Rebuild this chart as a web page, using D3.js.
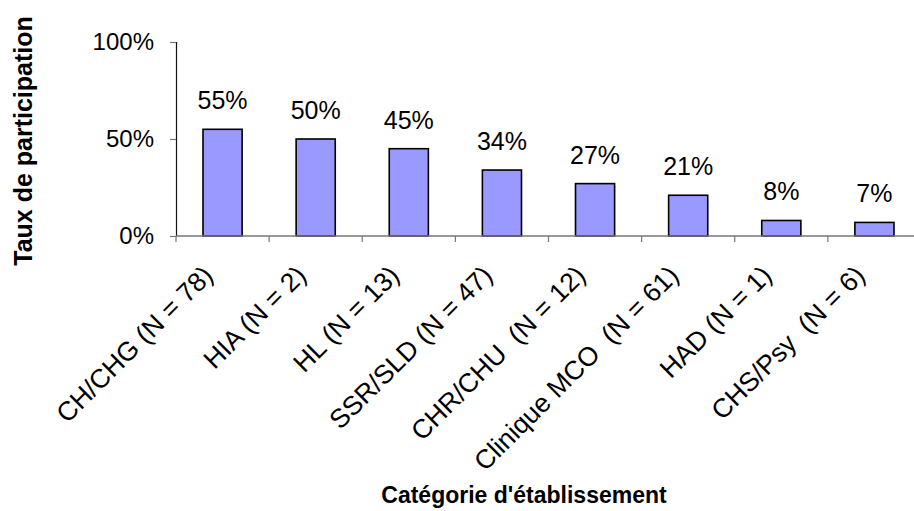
<!DOCTYPE html>
<html>
<head>
<meta charset="utf-8">
<script src="https://cdn.jsdelivr.net/npm/d3@7"></script>
<style>
  html, body { margin: 0; padding: 0; background: #fff; }
  svg { display: block; font-family: Arial, "Liberation Sans", Helvetica, sans-serif; }
</style>
</head>
<body>
<svg id="chart" width="914" height="511"></svg>
<script>
// Participation rate by facility category
const categories = [
  "CH/CHG (N = 78)",
  "HIA (N = 2)",
  "HL (N = 13)",
  "SSR/SLD (N = 47)",
  "CHR/CHU  (N = 12)",
  "Clinique MCO  (N = 61)",
  "HAD (N = 1)",
  "CHS/Psy  (N = 6)"
];
const rates = [0.55, 0.50, 0.45, 0.34, 0.27, 0.21, 0.08, 0.07];
const yTicks = [0, 0.5, 1];

const yTitle = "Taux de participation";
const xTitle = "Catégorie d'établissement";

const svg = d3.select("#chart");

const plot = { left: 176, right: 921, top: 42, bottom: 236 };

const x = d3.scaleBand()
  .domain(categories)
  .range([plot.left, plot.right])
  .paddingInner(0)
  .paddingOuter(0);

const y = d3.scaleLinear()
  .domain([0, 1])
  .range([plot.bottom, plot.top]);

const pct = d3.format(".0%");
const barW = x.bandwidth() * 0.42;

// Bars
svg.append("g")
  .selectAll("rect")
  .data(categories)
  .join("rect")
  .attr("x", d => x(d) + (x.bandwidth() - barW) / 2)
  .attr("y", (d, i) => y(rates[i]))
  .attr("width", barW)
  .attr("height", (d, i) => y(0) - y(rates[i]))
  .attr("fill", "#9999FF")
  .attr("stroke", "#000")
  .attr("stroke-width", 1.6);

// Value labels above bars
svg.append("g")
  .selectAll("text")
  .data(categories)
  .join("text")
  .attr("x", d => x(d) + x.bandwidth() / 2)
  .attr("y", (d, i) => y(rates[i]) - 20)
  .attr("text-anchor", "middle")
  .attr("font-size", 25)
  .attr("fill", "#000")
  .text((d, i) => pct(rates[i]));

// Y axis
const yAxis = svg.append("g")
  .attr("transform", `translate(${plot.left},0)`)
  .call(d3.axisLeft(y).tickValues(yTicks).tickFormat(pct).tickSize(6).tickPadding(16));
yAxis.select(".domain").attr("stroke", "#111").attr("stroke-width", 1.2);
yAxis.selectAll(".tick line").attr("stroke", "#777").attr("stroke-width", 1.2);
yAxis.selectAll(".tick text")
  .attr("font-size", 24)
  .attr("font-family", "Arial, 'Liberation Sans', sans-serif")
  .attr("fill", "#000");

// X axis: ticks sit on band boundaries
const bounds = categories.map(c => x(c)).concat([plot.right]);
const xAxisG = svg.append("g");
xAxisG.append("line")
  .attr("x1", plot.left).attr("x2", plot.right)
  .attr("y1", y(0)).attr("y2", y(0))
  .attr("stroke", "#777").attr("stroke-width", 1.4);
xAxisG.selectAll("line.tick")
  .data(bounds)
  .join("line")
  .attr("class", "tick")
  .attr("x1", d => d).attr("x2", d => d)
  .attr("y1", y(0)).attr("y2", y(0) + 6)
  .attr("stroke", "#777").attr("stroke-width", 1.2);

// Rotated category labels
svg.append("g")
  .selectAll("text")
  .data(categories)
  .join("text")
  .attr("transform", d => `translate(${x(d) + x.bandwidth() / 2 - 8},${y(0) + 41}) rotate(-45)`)
  .attr("text-anchor", "end")
  .attr("font-size", 26.5)
  .attr("fill", "#000")
  .style("white-space", "pre")
  .text(d => d);

// Axis titles
svg.append("text")
  .attr("transform", `translate(32,141) rotate(-90)`)
  .attr("text-anchor", "middle")
  .attr("font-size", 25)
  .attr("font-weight", "bold")
  .attr("fill", "#000")
  .text(yTitle);

svg.append("text")
  .attr("x", 524)
  .attr("y", 503)
  .attr("text-anchor", "middle")
  .attr("font-size", 23)
  .attr("font-weight", "bold")
  .attr("fill", "#000")
  .text(xTitle);
</script>
</body>
</html>
